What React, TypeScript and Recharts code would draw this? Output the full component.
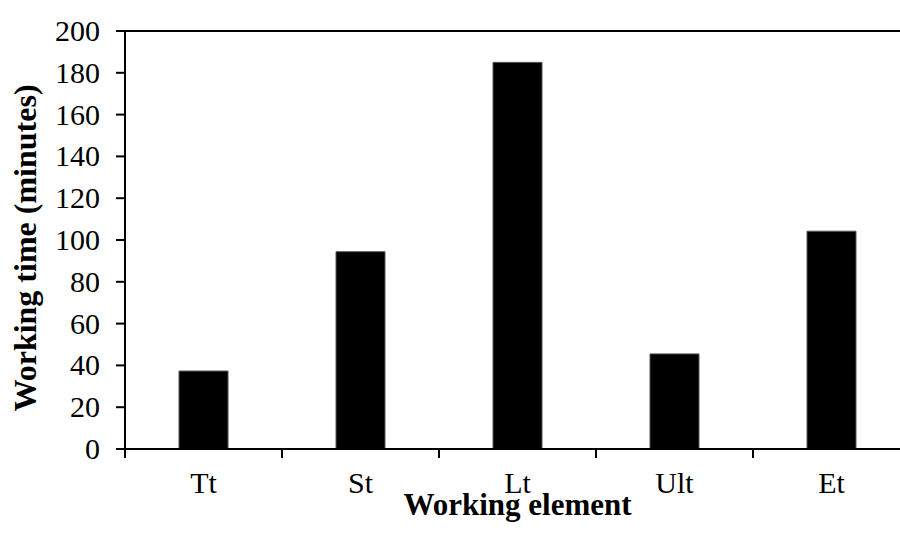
import { BarChart, Bar, XAxis, YAxis, ReferenceLine } from "recharts"

const categories = ["Tt", "St", "Lt", "Ult", "Et"]
const minutes = [37.3, 94.4, 185, 45.5, 104.2]
const yTicks = [0, 20, 40, 60, 80, 100, 120, 140, 160, 180, 200]

const data = categories.map((name, i) => ({ name, value: minutes[i] }))

const FONT = "'Liberation Serif', 'Times New Roman', serif"
const W = 925
const H = 534
const MARGIN = { top: 31, right: 15, left: 0, bottom: 0 }
const Y_AXIS_W = 125
const X_AXIS_H = 85
const PLOT_BOTTOM = H - MARGIN.bottom - X_AXIS_H
const BAND = (W - MARGIN.left - MARGIN.right - Y_AXIS_W) / categories.length

function CategoryTick(props: any) {
  const { x, payload } = props
  const left = x - BAND / 2
  return (
    <g>
      <line x1={left} x2={left} y1={PLOT_BOTTOM} y2={PLOT_BOTTOM + 9} stroke="#000" strokeWidth={2} />
      <text x={x} y={PLOT_BOTTOM + 44} textAnchor="middle" fontFamily={FONT} fontSize={30} fill="#000">
        {payload.value}
      </text>
    </g>
  )
}

function ValueTick(props: any) {
  const { x, y, payload } = props
  return (
    <text x={x} y={y} dy={10} textAnchor="end" fontFamily={FONT} fontSize={30} fill="#000">
      {payload.value}
    </text>
  )
}

function XTitle() {
  const cx = MARGIN.left + Y_AXIS_W + (BAND * categories.length) / 2
  return (
    <text
      x={cx}
      y={PLOT_BOTTOM + 66}
      textAnchor="middle"
      fontFamily={FONT}
      fontWeight="bold"
      fontSize={31}
      fill="#000"
    >
      Working element
    </text>
  )
}

function YTitle() {
  const cx = 36
  const cy = 248
  return (
    <text
      x={cx}
      y={cy}
      transform={`rotate(-90, ${cx}, ${cy})`}
      textAnchor="middle"
      fontFamily={FONT}
      fontWeight="bold"
      fontSize={32}
      fill="#000"
    >
      Working time (minutes)
    </text>
  )
}

export default function App() {
  return (
    <div style={{ position: "absolute", left: 0, top: 0, width: 900, height: H, overflow: "hidden", background: "#fff" }}>
      <BarChart width={W} height={H} data={data} margin={MARGIN} barSize={49}>
        <XAxis
          dataKey="name"
          height={X_AXIS_H}
          axisLine={{ stroke: "#000", strokeWidth: 2 }}
          tickLine={false}
          tick={<CategoryTick />}
          interval={0}
          label={<XTitle />}
        />
        <YAxis
          width={Y_AXIS_W}
          domain={[0, 200]}
          ticks={yTicks}
          interval={0}
          axisLine={{ stroke: "#000", strokeWidth: 2 }}
          tickLine={{ stroke: "#000", strokeWidth: 2 }}
          tickSize={9}
          tickMargin={16}
          tick={<ValueTick />}
          label={<YTitle />}
        />
        <ReferenceLine y={200} stroke="#000" strokeWidth={2} />
        <Bar dataKey="value" fill="#000" stroke="#555" strokeWidth={1} isAnimationActive={false} />
      </BarChart>
    </div>
  )
}
